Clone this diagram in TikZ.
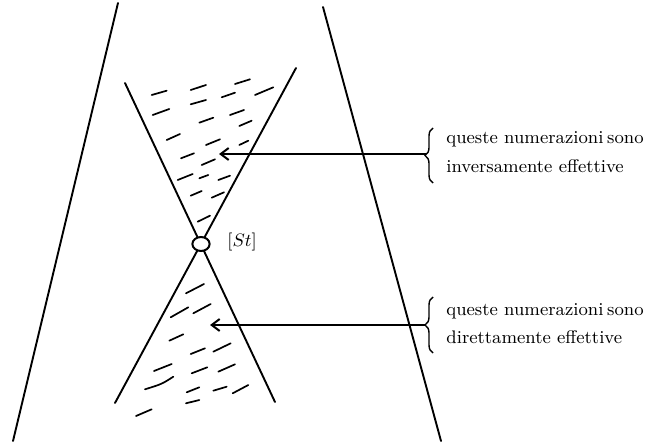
\documentclass[tikz,border=0pt]{standalone}
\usetikzlibrary{arrows.meta,decorations.pathreplacing,shapes.geometric}
\begin{document}
\begin{tikzpicture}[x=0.5pt,y=-0.5pt,
  lineA/.style={line width=0.95pt,line cap=round},
  hatch/.style={line width=0.85pt,line cap=round},
  arrowline/.style={line width=1pt,-{Straight Barb[length=4pt,width=6pt,line width=1pt]}},
  bracestyle/.style={line width=0.7pt,decorate,decoration={brace,amplitude=4pt}},
  txt/.style={font=\fontsize{9.1}{11}\selectfont,inner sep=0pt,anchor=base west},
  knot/.style={draw,line width=1pt,fill=white,ellipse,minimum width=8.6pt,minimum height=7pt,inner sep=0pt}
]
\useasboundingbox (0,0) rectangle (646,448);
% outer lines
\coordinate (OLt) at (118,3);
\coordinate (OLb) at (13,441);
\coordinate (ORt) at (323,7);
\coordinate (ORb) at (441,441);
\draw[lineA] (OLt) -- (OLb);
\draw[lineA] (ORt) -- (ORb);
% inner X
\coordinate (XUL) at (125,83);
\coordinate (XUR) at (296,68);
\coordinate (XLL) at (115,403);
\coordinate (XLR) at (275,402);
\draw[lineA] (XUL) -- (XLR);
\draw[lineA] (XUR) -- (XLL);
\node[knot] (st) at (201,244) {};
\node[font=\fontsize{9.2}{11}\selectfont,anchor=west,inner sep=0pt] (stl) at (227,242) {$[St]$};
% hatch upper
\foreach \a/\b/\c/\d in {
151.7/95/166.7/90.7, 190.7/90/206/85, 235/84/250/79.3,
152.7/115/169.3/109, 190.7/104.3/206/100, 221.7/97.3/235/92.7, 255/95/273.3/87.3,
199.3/122.7/213.3/117.7, 230/115/244/110,
166.7/140/180/134, 206/145/220/139.3, 239.3/126/251.7/120.7, 239.3/145/248.3/140.7,
181/158.3/194/153.3, 201.7/165/215/159.3,
177.7/180/192.7/174, 199.3/178.3/208.3/175, 218.3/180/230/175.7,
190.7/195.7/201.7/191, 211.7/197.7/224/192.3,
197.7/221.7/210/215.7}
  \draw[hatch] (\a,\b) -- (\c,\d);
% hatch lower
\foreach \a/\b/\c/\d in {
186/293.3/204/284,
170.7/317.3/188.3/307.3, 193.3/313.3/210.7/304,
169.3/340.7/183.3/334.3,
190.7/354/205/348.3, 213.3/351.7/230.7/343.3,
154/371/171.7/364, 191.7/373.3/207.3/367.3, 218.3/371.7/235/364.3,
186.7/392.3/199.3/387.3, 213.3/390.7/226.7/386.7, 232.7/393.3/248.3/385,
186/403.3/199.3/400, 136/416/151.7/409.3}
  \draw[hatch] (\a,\b) -- (\c,\d);
\draw[hatch] (145,389.3) .. controls (162,384) .. (173.3,376.7);
% upper label
\node[txt] (t1) at (446,144) {queste numerazioni\hspace{0.2em}sono};
\node[txt] (t2) at (446,173) {inversamente effettive};
\coordinate (b1b) at (433,183);
\coordinate (b1t) at (433,128);
\draw[bracestyle] (b1b) -- (b1t);
\coordinate (b1m) at (426,154);
\coordinate (tip1) at (219,154);
\draw[arrowline] (b1m) -- (tip1);
% lower label
\node[txt] (t3) at (446,315) {queste numerazioni\hspace{0.2em}sono};
\node[txt] (t4) at (446,343) {direttamente effettive};
\coordinate (b2b) at (433,353);
\coordinate (b2t) at (433,297);
\draw[bracestyle] (b2b) -- (b2t);
\coordinate (b2m) at (426,325);
\coordinate (tip2) at (210,325);
\draw[arrowline] (b2m) -- (tip2);
\end{tikzpicture}
\end{document}
